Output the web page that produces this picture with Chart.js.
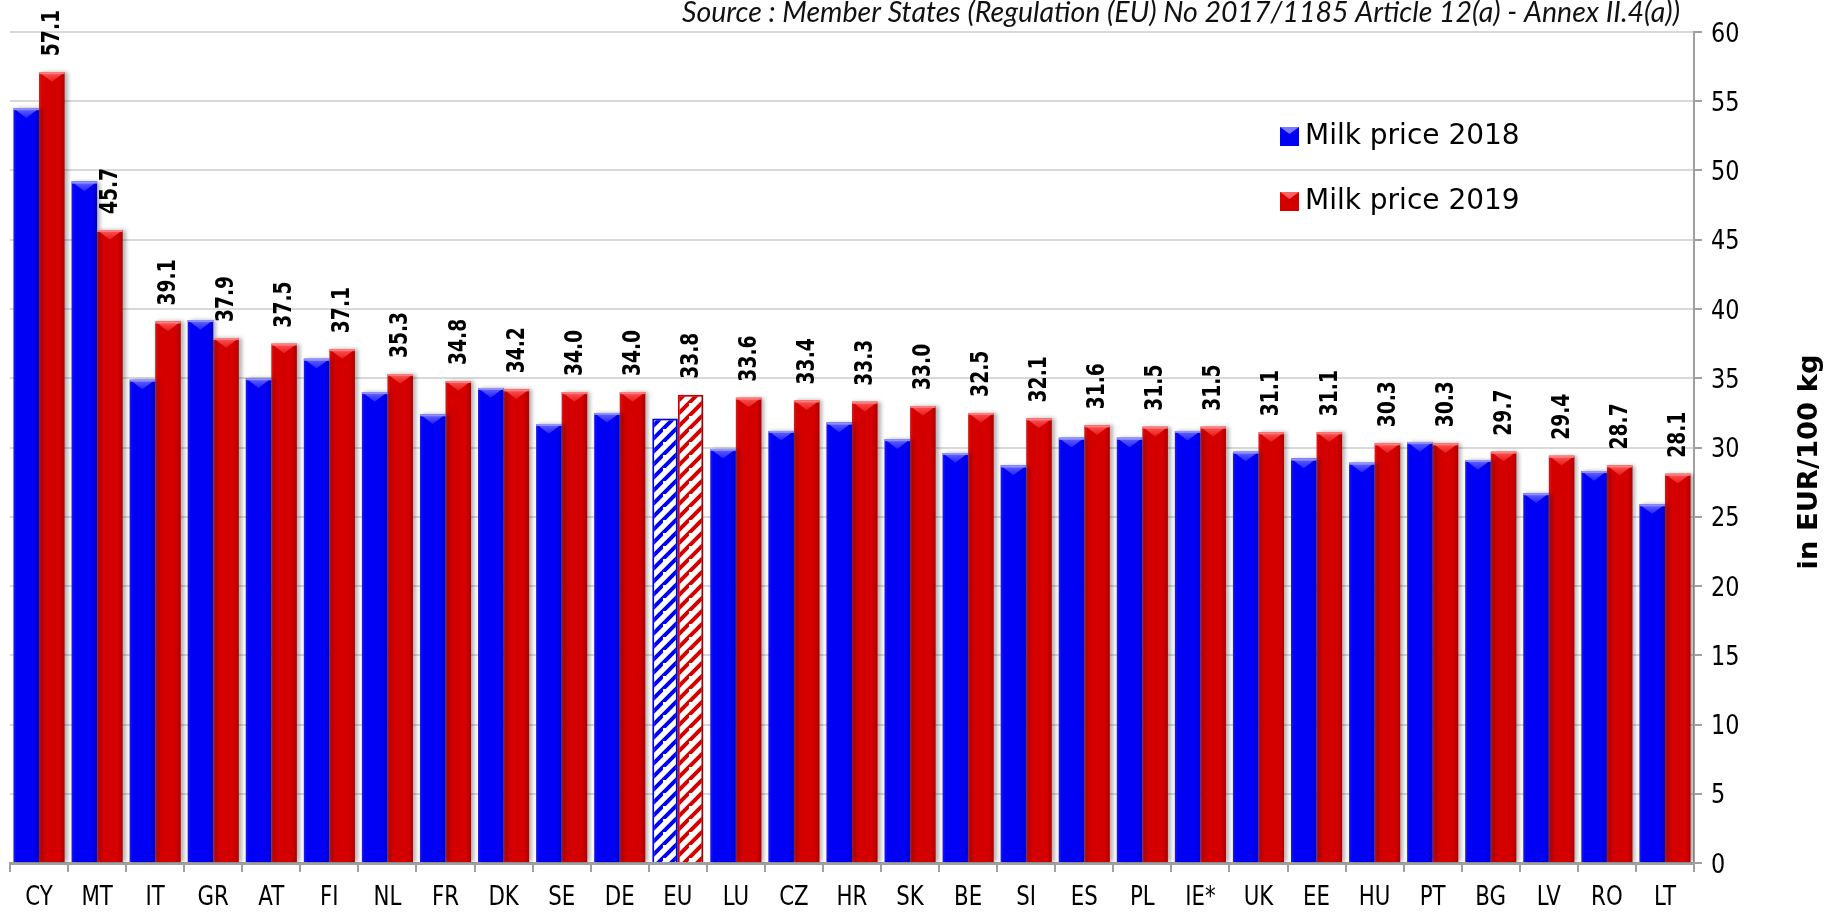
<!DOCTYPE html>
<html lang="en">
<head>
<meta charset="UTF-8">
<title>Milk price 2018 / 2019</title>
<script src="https://cdn.jsdelivr.net/npm/chart.js"></script>
<style>
    html, body { margin: 0; padding: 0; background: #fff; }
</style>
</head>
<body>
<canvas id="graficoLeite" width="1842" height="912"></canvas>
<script>
// dados
const paises = ['CY', 'MT', 'IT', 'GR', 'AT', 'FI', 'NL', 'FR', 'DK', 'SE', 'DE', 'EU', 'LU', 'CZ', 'HR',
                'SK', 'BE', 'SI', 'ES', 'PL', 'IE*', 'UK', 'EE', 'HU', 'PT', 'BG', 'LV', 'RO', 'LT']
const preco2018 = [54.5, 49.2, 34.9, 39.2, 35.0, 36.4, 34.0, 32.4, 34.3, 31.7, 32.5, 32.1, 29.9, 31.2, 31.8,
                   30.6, 29.6, 28.7, 30.7, 30.7, 31.2, 29.7, 29.2, 28.9, 30.4, 29.1, 26.7, 28.3, 25.9]
const preco2019 = [57.1, 45.7, 39.1, 37.9, 37.5, 37.1, 35.3, 34.8, 34.2, 34.0, 34.0, 33.8, 33.6, 33.4, 33.3,
                   33.0, 32.5, 32.1, 31.6, 31.5, 31.5, 31.1, 31.1, 30.3, 30.3, 29.7, 29.4, 28.7, 28.1]
const valoresY = [0, 5, 10, 15, 20, 25, 30, 35, 40, 45, 50, 55, 60]
const nomesSeries = ['Milk price 2018', 'Milk price 2019']
const textoFonte = 'Source : Member States (Regulation (EU) No 2017/1185 Article 12(a) - Annex II.4(a))'
const tituloY = 'in EUR/100 kg'

const azul = '#0000f4'
const vermelho = '#d40000'

// hachurado para a barra da UE
function hachura(cor) {
    var n = 13
    var c = document.createElement('canvas')
    c.width = n
    c.height = n
    var x = c.getContext('2d')
    x.fillStyle = '#fff'
    x.fillRect(0, 0, n, n)
    x.strokeStyle = cor
    x.lineWidth = 4
    x.beginPath()
    x.moveTo(-3, n + 3); x.lineTo(n + 3, -3)
    x.moveTo(-n - 3, 3); x.lineTo(3, -n - 3)
    x.moveTo(-3, 2 * n + 3); x.lineTo(2 * n + 3, -3)
    x.stroke()
    return x.createPattern(c, 'repeat')
}

const padraoAzul = hachura(azul)
const padraoVermelho = hachura(vermelho)

var coresAzul = paises.map(p => p == 'EU' ? padraoAzul : azul)
var coresVermelho = paises.map(p => p == 'EU' ? padraoVermelho : vermelho)
var bordas = paises.map(p => p == 'EU' ? 2 : 0)

// sombra + brilho nas barras
const efeito3d = {
    id: 'efeito3d',
    beforeDatasetsDraw(chart) {
        const ctx = chart.ctx
        ctx.save()
        ctx.shadowColor = 'rgba(0,0,0,0.3)'
        ctx.shadowBlur = 4
        ctx.shadowOffsetX = 3
    },
    afterDatasetsDraw(chart) {
        const ctx = chart.ctx
        ctx.restore()
        chart.data.datasets.forEach((ds, d) => {
            chart.getDatasetMeta(d).data.forEach((bar, i) => {
                if (paises[i] == 'EU') return
                var l = bar.x - bar.width / 2
                var r = bar.x + bar.width / 2
                var t = bar.y
                var b = bar.base
                var g = ctx.createLinearGradient(l, 0, r, 0)
                g.addColorStop(0, 'rgba(255,255,255,0.10)')
                g.addColorStop(0.12, 'rgba(255,255,255,0)')
                g.addColorStop(0.8, 'rgba(0,0,0,0)')
                g.addColorStop(1, 'rgba(0,0,0,0.18)')
                ctx.fillStyle = g
                ctx.fillRect(l, t, r - l, b - t)
                var h = Math.min(bar.width * 0.38, b - t)
                var gv = ctx.createLinearGradient(0, t, 0, t + h)
                if (d == 0) {
                    gv.addColorStop(0, 'rgba(110,110,255,0.95)')
                    gv.addColorStop(1, 'rgba(40,40,255,0.9)')
                } else {
                    gv.addColorStop(0, 'rgba(255,95,95,0.95)')
                    gv.addColorStop(1, 'rgba(235,30,30,0.9)')
                }
                ctx.fillStyle = gv
                ctx.beginPath()
                ctx.moveTo(l, t)
                ctx.lineTo(r, t)
                ctx.lineTo(bar.x, t + h)
                ctx.closePath()
                ctx.fill()
                ctx.fillStyle = d == 0 ? 'rgba(150,150,255,0.9)' : 'rgba(255,130,130,0.9)'
                ctx.fillRect(l, t, r - l, 2)
            })
        })
    }
}

// valores em cima das barras de 2019
const rotulos = {
    id: 'rotulos',
    afterDatasetsDraw(chart) {
        const ctx = chart.ctx
        ctx.save()
        ctx.fillStyle = '#000'
        ctx.font = 'bold 24px "DejaVu Sans"'
        ctx.textAlign = 'left'
        ctx.textBaseline = 'middle'
        chart.getDatasetMeta(1).data.forEach((bar, i) => {
            ctx.save()
            ctx.translate(bar.x + 1, bar.y - 16)
            ctx.rotate(-Math.PI / 2)
            ctx.scale(0.78, 1)
            ctx.fillText(preco2019[i].toFixed(1), 0, 0)
            ctx.restore()
        })
        ctx.restore()
    }
}

// rotulos dos eixos (fonte estreita, como no original)
const eixos = {
    id: 'eixos',
    afterDraw(chart) {
        const ctx = chart.ctx
        const sx = chart.scales.x
        const sy = chart.scales.y
        ctx.save()
        ctx.fillStyle = '#000'
        ctx.textBaseline = 'alphabetic'

        ctx.font = '26px "DejaVu Sans"'
        ctx.textAlign = 'center'
        sx.ticks.forEach((t, i) => {
            ctx.save()
            ctx.translate(sx.getPixelForTick(i), 905)
            ctx.scale(0.82, 1)
            ctx.fillText(paises[i], 0, 0)
            ctx.restore()
        })

        ctx.textAlign = 'left'
        sy.ticks.forEach(t => {
            ctx.save()
            ctx.translate(sy.right - sy.width + 17, sy.getPixelForValue(t.value) + 9.5)
            ctx.scale(0.86, 1)
            ctx.fillText(String(t.value), 0, 0)
            ctx.restore()
        })
        ctx.restore()
    }
}

// legenda, fonte e titulo do eixo
const textos = {
    id: 'textos',
    afterDraw(chart) {
        const ctx = chart.ctx
        ctx.save()

        // legenda
        var coresLeg = [azul, vermelho]
        var brilho = ['#7a7aff', '#ff6060']
        ctx.font = '28px "DejaVu Sans"'
        ctx.textAlign = 'left'
        ctx.textBaseline = 'middle'
        nomesSeries.forEach((nome, k) => {
            var y = 127 + k * 65
            ctx.fillStyle = coresLeg[k]
            ctx.fillRect(1280, y, 19, 19)
            ctx.fillStyle = brilho[k]
            ctx.beginPath()
            ctx.moveTo(1280, y); ctx.lineTo(1299, y); ctx.lineTo(1289.5, y + 7)
            ctx.closePath()
            ctx.fill()
            ctx.fillStyle = '#000'
            ctx.fillText(nome, 1305, y + 10)
        })

        // fonte
        ctx.font = 'italic 24px Lato'
        var w = ctx.measureText(textoFonte).width
        var tam = 24 * 997 / w
        ctx.font = 'italic ' + tam.toFixed(1) + 'px Lato'
        ctx.textAlign = 'right'
        ctx.textBaseline = 'alphabetic'
        ctx.fillStyle = '#111'
        ctx.fillText(textoFonte, 1680, 22)

        // titulo do eixo y
        ctx.font = 'bold 26px "DejaVu Sans"'
        var wt = ctx.measureText(tituloY).width
        ctx.translate(1810, 462)
        ctx.rotate(-Math.PI / 2)
        ctx.scale(215 / wt, 1)
        ctx.textAlign = 'center'
        ctx.textBaseline = 'middle'
        ctx.fillStyle = '#000'
        ctx.fillText(tituloY, 0, 0)
        ctx.restore()
    }
}

new Chart(document.getElementById('graficoLeite'), {
    type: 'bar',
    data: {
        labels: paises,
        datasets: [{
            label: nomesSeries[0],
            data: preco2018,
            backgroundColor: coresAzul,
            borderColor: azul,
            borderWidth: bordas,
            categoryPercentage: 0.88,
            barPercentage: 1.0
        }, {
            label: nomesSeries[1],
            data: preco2019,
            backgroundColor: coresVermelho,
            borderColor: vermelho,
            borderWidth: bordas,
            categoryPercentage: 0.88,
            barPercentage: 1.0
        }]
    },
    options: {
        responsive: false,
        animation: false,
        layout: {
            padding: { left: 10, top: 32, right: 0, bottom: 0 }
        },
        plugins: {
            legend: { display: false },
            tooltip: { enabled: false }
        },
        scales: {
            x: {
                grid: {
                    drawOnChartArea: false,
                    drawTicks: true,
                    tickLength: 9,
                    color: '#a0a0a0',
                    lineWidth: 2,
                    offset: true
                },
                border: { color: '#a0a0a0', width: 3 },
                ticks: { display: false, autoSkip: false },
                afterFit(s) { s.height = 49 }
            },
            y: {
                position: 'right',
                min: 0,
                max: 60,
                afterBuildTicks(s) { s.ticks = valoresY.map(v => ({ value: v })) },
                ticks: { display: false },
                grid: {
                    color: '#d9d9d9',
                    lineWidth: 2,
                    tickLength: 8,
                    tickColor: '#a0a0a0'
                },
                border: { color: '#a0a0a0', width: 2 },
                afterFit(s) { s.width = 148 }
            }
        }
    },
    plugins: [efeito3d, rotulos, eixos, textos]
})
</script>
</body>
</html>
